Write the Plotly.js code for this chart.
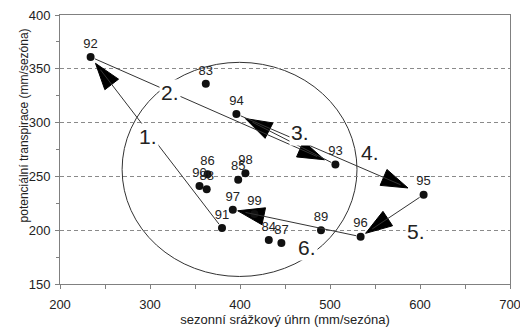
<!DOCTYPE html>
<html><head><meta charset="utf-8">
<script src="https://cdn.plot.ly/plotly-3.0.1.min.js"></script>
<style>html,body{margin:0;padding:0;background:#fff}#chart{width:520px;height:329px}</style>
</head><body><div id="chart"></div>
<script>
// season labels (years) and their values
const years = ['92','83','94','93','95','96','89','97','99','91','84','87','85','98','86','90','88'];
const precipitation = [234,362,396,506,604,534,490,392,416,380,432,446,398,406,364,355,363];
const transpiration = [361,336,308,261,233,194,200,219,215,202,191,188,247,253,252,241,238];
// numbered trajectory steps
const stepLabels = ['1.','2.','3.','4.','5.','6.'];
const stepFrom = ['91','92','93','94','95','96'];
const stepTo = ['92','93','94','95','96','97'];
const stepLabelX = [298,322,467,544,595,474];
const stepLabelY = [287,328,291,272,199,184];
// enclosing ellipse bounds
const circleX = [269,530];
const circleY = [157,356];
// axis ticks
const xTicks = [200,300,400,500,600,700];
const yTicks = [150,200,250,300,350,400];

const FONT = 'Arial, "Liberation Sans", sans-serif';
const idx = y => years.indexOf(y);
const tipStandoff = [8,12,10,17,6,5];

const traces = [];
// arrowheads
stepFrom.forEach((f,i)=>{
  const a = idx(f), b = idx(stepTo[i]);
  traces.push({
    type:'scatter', mode:'markers', hoverinfo:'skip', showlegend:false,
    x:[precipitation[a], precipitation[b]], y:[transpiration[a], transpiration[b]],
    marker:{symbol:['circle','arrow'], size:[0,28], color:'#000', opacity:1, angleref:'previous',
      standoff:[0,tipStandoff[i]], line:{width:1, color:'#000'}}
  });
});
// points
traces.push({
  type:'scatter', mode:'markers+text', hoverinfo:'skip', showlegend:false,
  x:precipitation, y:transpiration, text:years, textposition:'top center',
  textfont:{family:FONT, size:13, color:'#222'},
  marker:{symbol:'circle', size:8, color:'#111'}
});

const annotations = [];
stepFrom.forEach((f,i)=>{
  const a = idx(f), b = idx(stepTo[i]);
  annotations.push({
    xref:'x', yref:'y', axref:'x', ayref:'y',
    x:precipitation[b], y:transpiration[b], ax:precipitation[a], ay:transpiration[a],
    text:'', showarrow:true, arrowhead:0, arrowwidth:1, arrowcolor:'#333',
    standoff:tipStandoff[i]+8, startstandoff:3
  });
});
stepLabels.forEach((t,i)=>{
  annotations.push({
    xref:'x', yref:'y', x:stepLabelX[i], y:stepLabelY[i], text:t, showarrow:false,
    font:{family:FONT, size:21, color:'#222'}, bgcolor:'#fff', borderpad:1
  });
});
annotations.push({
  xref:'paper', yref:'paper', x:-0.079, y:0.591, xanchor:'center', yanchor:'middle',
  text:'potenciální transpirace (mm/sezóna)', textangle:-90, showarrow:false,
  font:{family:FONT, size:12, color:'#222'}
});

const layout = {
  width:520, height:329,
  margin:{l:60, r:10, t:15, b:45},
  paper_bgcolor:'#fff', plot_bgcolor:'#fff',
  font:{family:FONT, size:13, color:'#222'},
  showlegend:false,
  xaxis:{
    range:[200,700], tickvals:xTicks, ticktext:xTicks.map(String),
    showgrid:false, zeroline:false, showline:true, mirror:true, linecolor:'#808080', linewidth:1,
    ticks:'outside', ticklen:4, tickcolor:'#808080', ticklabeloverflow:'allow', ticklabelstandoff:4,
    minor:{dtick:50, ticks:'outside', ticklen:4, tickcolor:'#808080', showgrid:false},
    tickfont:{family:FONT, size:13, color:'#222'},
    title:{text:'sezonní srážkový úhrn (mm/sezóna)', font:{family:FONT, size:13, color:'#222'}, standoff:0}
  },
  yaxis:{
    range:[150,400], tickvals:yTicks, ticktext:yTicks.map(String),
    showgrid:true, gridcolor:'#8a8a8a', griddash:'4px,3px', gridwidth:1,
    zeroline:false, showline:true, mirror:true, linecolor:'#808080', linewidth:1,
    ticks:'outside', ticklen:4, tickcolor:'#808080', ticklabelstandoff:2,
    minor:{dtick:25, ticks:'outside', ticklen:3, tickcolor:'#808080', showgrid:false},
    tickfont:{family:FONT, size:13, color:'#222'}
  },
  shapes:[{type:'circle', xref:'x', yref:'y', x0:circleX[0], x1:circleX[1], y0:circleY[0], y1:circleY[1],
    line:{color:'#333', width:1}, layer:'below'}],
  annotations
};
Plotly.newPlot('chart', traces, layout, {displayModeBar:false, staticPlot:true});
</script></body></html>
